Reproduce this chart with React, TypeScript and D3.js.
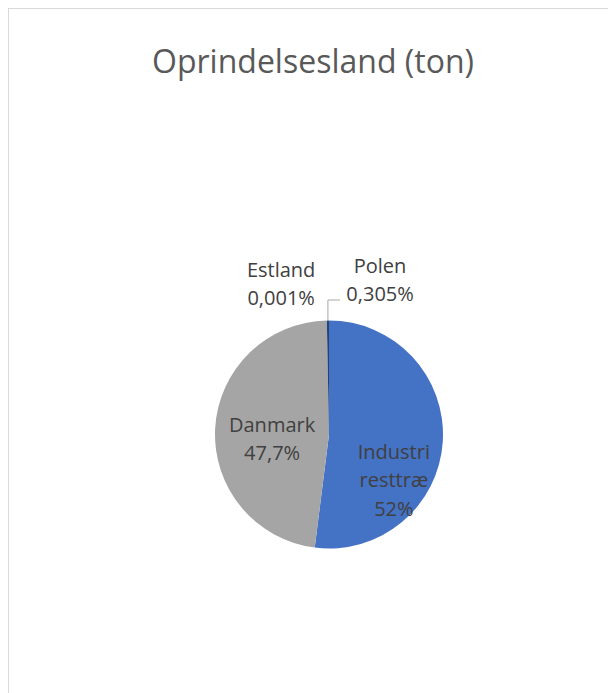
import React, { useEffect, useRef } from "react";
import * as d3 from "d3";

const categories = ["Industri resttræ", "Danmark", "Estland", "Polen"];
const shares = [52, 47.7, 0.001, 0.305];
const shareLabels = ["52%", "47,7%", "0,001%", "0,305%"];
const nameLines = [["Industri", "resttræ"], ["Danmark"], ["Estland"], ["Polen"]];
const colors = ["#4472C4", "#A5A5A5", "#ED7D31", "#264478"];

export default function App() {
  const ref = useRef<SVGSVGElement | null>(null);

  useEffect(() => {
    const el = ref.current;
    if (!el) return;
    const svg = d3.select(el);
    svg.selectAll("*").remove();
    const w = 600, h = 685;
    const cx = 321, cy = 426.5, r = 114;
    const font = "Open Sans, Noto Sans, sans-serif";

    svg.append("rect")
      .attr("x", 0.5).attr("y", 0.5)
      .attr("width", w + 40).attr("height", h + 40)
      .attr("fill", "#fff").attr("stroke", "#d9d9d9");

    svg.append("text")
      .attr("x", 305).attr("y", 65)
      .attr("text-anchor", "middle")
      .attr("font-family", font)
      .attr("font-size", 32)
      .attr("fill", "#595959")
      .text("Oprindelsesland (ton)");

    const data = categories.map((c, i) => ({ name: c, value: shares[i], i }));
    const pie = d3.pie<any>().sort(null).value(d => d.value);
    const arcs = pie(data);
    const arc = d3.arc<any>().innerRadius(0).outerRadius(r);

    const g = svg.append("g").attr("transform", `translate(${cx},${cy})`);
    g.selectAll("path")
      .data(arcs)
      .join("path")
      .attr("d", arc)
      .attr("fill", d => colors[d.data.i]);

    // label anchor: radius along mid-angle, then offset; dy is to first baseline
    const place: Record<string, { r: number; dx: number; dy: number }> = {
      "Industri resttræ": { r: 65, dx: 0, dy: 20.5 },
      "Danmark": { r: 57, dx: 0, dy: 0.5 },
      "Estland": { r: 150, dx: -45, dy: -7.5 },
      "Polen": { r: 150, dx: 52.5, dy: -11.5 },
    };
    const lineH = 28.3;

    arcs.forEach(a => {
      const p = place[a.data.name];
      const mid = (a.startAngle + a.endAngle) / 2;
      const x = Math.sin(mid) * p.r + p.dx;
      const y = -Math.cos(mid) * p.r + p.dy;
      const lines = [...nameLines[a.data.i], shareLabels[a.data.i]];
      const t = g.append("text")
        .attr("text-anchor", "middle")
        .attr("font-family", font)
        .attr("font-size", 20)
        .attr("fill", "#404040");
      lines.forEach((ln, k) => {
        t.append("tspan")
          .attr("x", x)
          .attr("y", y + k * lineH)
          .text(ln);
      });
    });

    // leader line to Polen
    const polen = arcs.find(a => a.data.name === "Polen")!;
    const pm = (polen.startAngle + polen.endAngle) / 2;
    const lx = Math.sin(pm) * r;
    const ly = -Math.cos(pm) * r;
    g.append("path")
      .attr("d", d3.line()([[lx, ly], [lx, ly - 20.5], [lx + 12, ly - 20.5]]))
      .attr("fill", "none")
      .attr("stroke", "#a6a6a6")
      .attr("stroke-width", 1);
  }, []);

  return (
    <svg
      ref={ref}
      width={600}
      height={685}
      style={{ display: "block", position: "absolute", left: 8, top: 8 }}
    />
  );
}
